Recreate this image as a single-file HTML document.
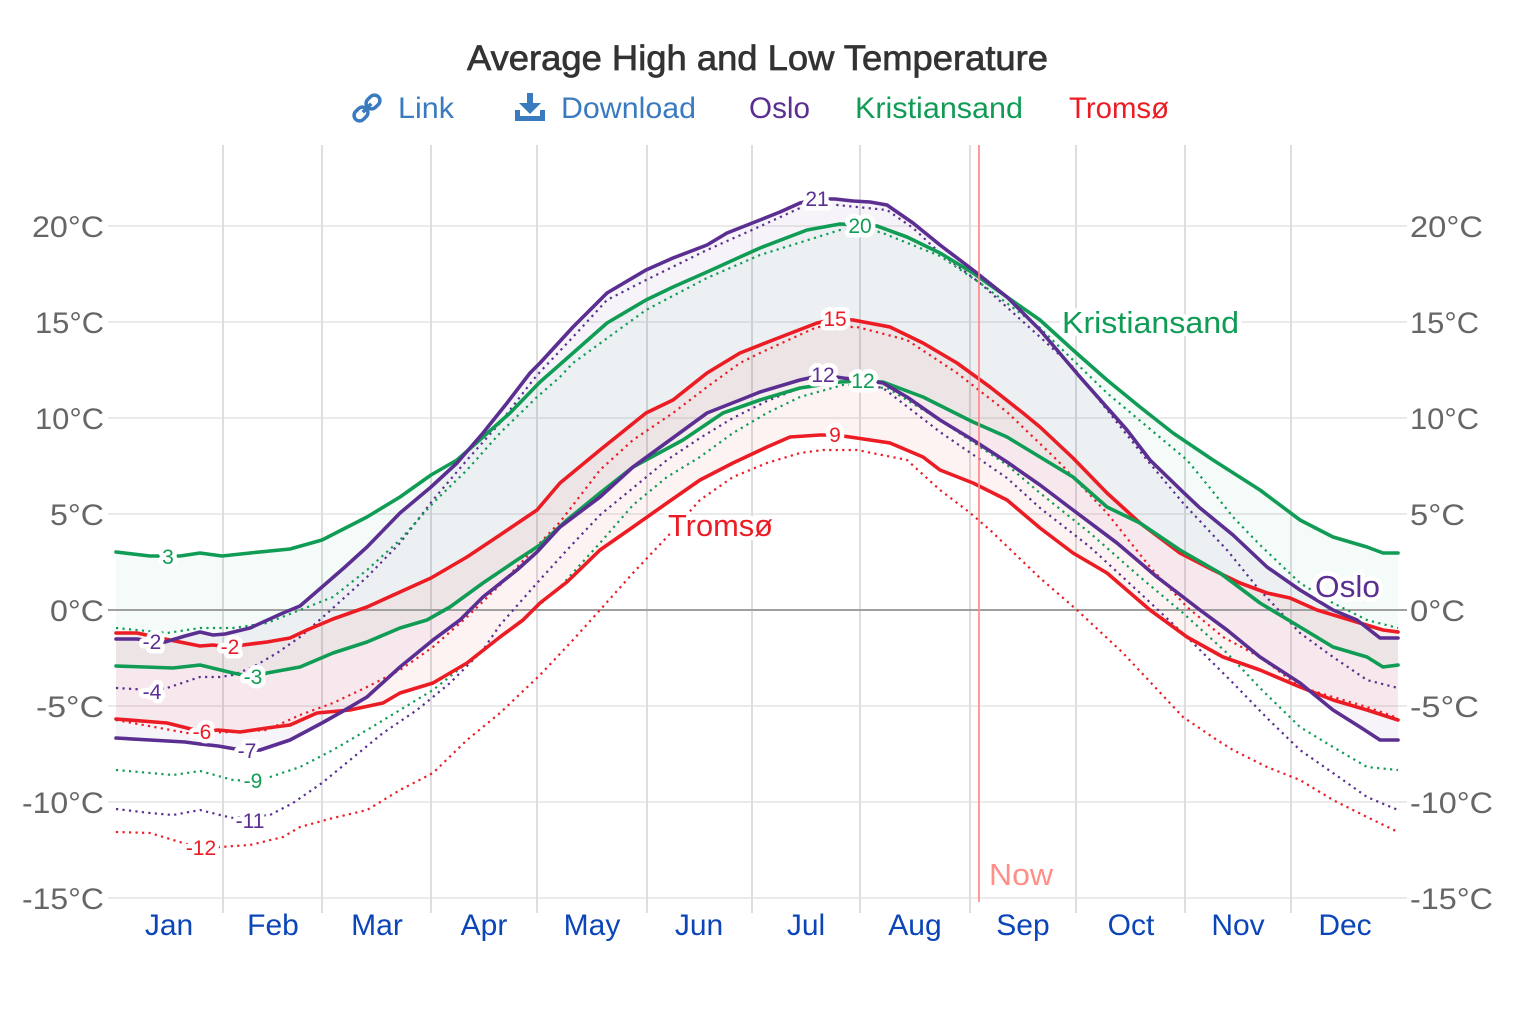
<!DOCTYPE html>
<html><head><meta charset="utf-8"><style>
html,body{margin:0;padding:0;background:#fff;}
svg{display:block;font-family:"Liberation Sans",Arial,sans-serif;}
.h{paint-order:stroke;stroke:#fff;stroke-width:9;stroke-linejoin:round;}
.v{font-size:21px;text-anchor:middle;}
.ax{font-size:30px;fill:#666;}
.mo{font-size:30px;fill:#0b45b8;text-anchor:middle;}
.s{fill:none;stroke-width:3.6;stroke-linejoin:round;stroke-linecap:round;}
.d{fill:none;stroke-width:2.2;stroke-dasharray:2.2 4.3;}
</style></head><body>
<svg width="1520" height="1014" viewBox="0 0 1520 1014" xmlns="http://www.w3.org/2000/svg">
<rect width="1520" height="1014" fill="#fff"/>
<!-- title -->
<text x="467" y="70" font-size="35" fill="#333" stroke="#333" stroke-width="0.7" textLength="581" lengthAdjust="spacingAndGlyphs">Average High and Low Temperature</text>
<!-- legend -->
<g transform="translate(367,108) rotate(45)" fill="none" stroke="#3a7bbf" stroke-width="3.5">
<rect x="-5.5" y="-16" width="11" height="15" rx="5.5"/>
<rect x="-5.5" y="1" width="11" height="15" rx="5.5"/>
<line x1="0" y1="-6" x2="0" y2="6"/>
</g>
<text x="398" y="118" font-size="30" fill="#3a7bbf" textLength="56" lengthAdjust="spacingAndGlyphs">Link</text>
<g fill="#3a7bbf">
<rect x="527" y="93" width="6" height="13"/>
<polygon points="519,103 541,103 530,114"/>
<path d="M515,110 h5 v6 h20 v-6 h5 v11 h-30 z"/>
</g>
<text x="561" y="118" font-size="30" fill="#3a7bbf" textLength="135" lengthAdjust="spacingAndGlyphs">Download</text>
<text x="749" y="118" font-size="30" fill="#5b2e91" textLength="61" lengthAdjust="spacingAndGlyphs">Oslo</text>
<text x="855" y="118" font-size="30" fill="#109c55" textLength="168" lengthAdjust="spacingAndGlyphs">Kristiansand</text>
<text x="1069" y="118" font-size="30" fill="#ec1c24" textLength="100" lengthAdjust="spacingAndGlyphs">Tromsø</text>

<!-- grid -->
<g stroke="#ebebeb" stroke-width="2">
<line x1="108" y1="226" x2="1407" y2="226"/>
<line x1="108" y1="322" x2="1407" y2="322"/>
<line x1="108" y1="418" x2="1407" y2="418"/>
<line x1="108" y1="514" x2="1407" y2="514"/>
<line x1="108" y1="706" x2="1407" y2="706"/>
<line x1="108" y1="802" x2="1407" y2="802"/>
<line x1="108" y1="898" x2="1407" y2="898"/>
</g>
<g stroke="#dedede" stroke-width="2">
<line x1="223" y1="145" x2="223" y2="913"/>
<line x1="322" y1="145" x2="322" y2="913"/>
<line x1="431" y1="145" x2="431" y2="913"/>
<line x1="537" y1="145" x2="537" y2="913"/>
<line x1="647" y1="145" x2="647" y2="913"/>
<line x1="752" y1="145" x2="752" y2="913"/>
<line x1="860" y1="145" x2="860" y2="913"/>
<line x1="970" y1="145" x2="970" y2="913"/>
<line x1="1076" y1="145" x2="1076" y2="913"/>
<line x1="1185" y1="145" x2="1185" y2="913"/>
<line x1="1291" y1="145" x2="1291" y2="913"/>
</g>

<!-- fills -->
<polygon fill="#5b2e91" fill-opacity="0.05" points="116,639 137,639 150,641 165,642 185,636 200,632 213,635 225,634 250,628 283,613 300,606 322,587 345,567 367,547 400,513 431,487 457,463 483,433 507,403 530,373 540,363 573,327 607,293 646,270 673,258 707,245 727,233 760,220 780,212 800,203 817,199 835,199 853,201 870,202 887,205 913,223 940,245 973,270 1007,297 1040,330 1080,377 1127,430 1150,460 1183,492 1200,508 1233,535 1267,567 1300,590 1333,610 1357,620 1380,638 1398,638 1398,740 1380,740 1360,727 1333,710 1300,683 1260,657 1227,630 1200,610 1157,577 1117,543 1073,510 1040,485 1007,462 973,440 940,420 907,397 883,383 860,380 843,378 823,375 800,380 760,392 740,400 707,413 670,440 633,467 600,497 560,527 537,552 517,570 483,597 460,620 433,640 400,667 367,697 345,710 322,723 290,740 260,750 247,751 218,746 200,744 185,742 150,740 116,738"/>
<polygon fill="#109c55" fill-opacity="0.045" points="116,552 150,556 180,556 200,553 222,556 250,553 290,549 322,540 367,517 400,497 431,475 457,460 483,437 510,413 540,382 573,353 607,323 646,300 673,287 707,272 740,257 760,248 807,230 840,224 877,226 907,237 940,253 973,273 1007,297 1040,320 1073,350 1107,380 1140,407 1173,433 1213,460 1260,490 1300,520 1333,537 1367,547 1383,553 1398,553 1398,665 1383,667 1367,657 1333,647 1300,627 1260,603 1220,573 1180,550 1140,523 1107,507 1073,477 1040,457 1007,437 973,422 923,397 883,382 863,381 840,382 800,388 760,400 723,413 683,440 633,467 600,493 567,520 540,545 517,560 483,583 450,607 427,620 400,628 367,642 333,653 300,667 267,673 253,677 233,673 200,665 173,668 116,666"/>
<polygon fill="#ec1c24" fill-opacity="0.055" points="116,633 137,633 165,639 200,646 213,645 230,647 243,645 267,642 290,638 307,630 333,619 367,607 400,592 431,578 467,557 500,535 537,510 560,483 600,450 646,413 673,400 707,373 740,353 773,340 817,323 835,319 853,320 890,327 923,343 957,363 990,387 1023,413 1040,427 1073,458 1107,493 1140,523 1180,553 1213,570 1240,583 1267,593 1290,598 1317,610 1350,620 1383,630 1398,632 1398,720 1367,710 1333,700 1300,687 1260,670 1223,657 1187,637 1150,610 1107,573 1073,553 1040,528 1007,500 973,483 940,470 923,457 890,443 850,437 835,435 820,435 790,437 767,447 733,463 700,480 667,503 633,527 600,550 567,582 540,603 523,620 500,637 467,663 433,683 400,693 383,703 350,710 317,713 290,725 267,728 240,732 218,730 202,732 187,728 167,723 116,719"/>

<!-- zero line -->
<line x1="108" y1="610" x2="1407" y2="610" stroke="#a0a0a0" stroke-width="2"/>

<!-- dotted series -->
<polyline class="d" stroke="#5b2e91" points="116,688 150,690 167,688 200,677 220,677 233,675 253,667 277,653 300,637 323,617 345,597 367,577 400,543 433,500 467,460 500,423 533,380 540,372 573,337 607,300 646,280 707,250 752,230 800,208 837,205 887,210 913,228 940,253 980,283 1040,337 1073,367 1107,410 1147,460 1183,503 1227,550 1257,587 1300,633 1333,657 1367,680 1398,688"/>
<polyline class="d" stroke="#5b2e91" points="116,809 150,813 173,815 200,810 220,815 233,818 270,815 293,803 322,783 350,760 383,733 417,710 450,683 483,650 500,625 537,583 567,550 600,515 633,488 667,460 700,438 733,418 767,401 800,388 843,381 883,388 940,432 1007,478 1040,508 1090,547 1140,593 1190,640 1233,683 1267,718 1300,750 1333,773 1367,797 1398,810"/>
<polyline class="d" stroke="#109c55" points="116,628 167,633 200,628 233,628 267,623 300,610 333,597 367,570 400,540 433,503 467,470 500,433 537,397 560,377 573,363 646,310 707,278 760,255 840,230 880,232 940,256 980,283 1040,328 1107,393 1187,460 1210,488 1233,517 1260,545 1300,583 1333,603 1367,620 1398,628"/>
<polyline class="d" stroke="#109c55" points="116,770 173,775 200,771 233,780 253,781 270,777 300,767 333,750 367,730 400,710 433,690 467,663 500,637 523,620 537,607 560,587 600,543 633,505 667,477 700,457 733,433 767,413 800,397 843,385 887,388 940,420 1007,465 1040,493 1090,533 1140,577 1183,613 1227,653 1260,688 1300,727 1333,747 1367,767 1398,770"/>
<polyline class="d" stroke="#ec1c24" points="116,720 187,733 233,732 267,730 300,715 333,703 367,687 400,670 433,647 467,617 500,585 537,546 560,522 600,470 633,440 673,413 707,387 740,363 760,353 817,327 857,327 907,340 957,373 1007,412 1057,460 1107,513 1150,567 1187,607 1223,637 1260,657 1300,687 1333,697 1367,707 1398,718"/>
<polyline class="d" stroke="#ec1c24" points="116,832 150,833 183,843 200,848 220,847 250,845 283,837 300,827 333,818 367,810 400,790 433,773 467,740 500,713 540,675 573,640 600,610 633,573 667,537 700,500 733,477 767,463 800,453 823,450 857,450 907,460 940,490 969,512 990,530 1040,578 1077,610 1123,653 1167,700 1183,717 1217,740 1233,750 1267,767 1300,780 1333,800 1367,817 1398,832"/>

<!-- solid series -->
<polyline class="s" stroke="#ec1c24" points="116,633 137,633 165,639 200,646 213,645 230,647 243,645 267,642 290,638 307,630 333,619 367,607 400,592 431,578 467,557 500,535 537,510 560,483 600,450 646,413 673,400 707,373 740,353 773,340 817,323 835,319 853,320 890,327 923,343 957,363 990,387 1023,413 1040,427 1073,458 1107,493 1140,523 1180,553 1213,570 1240,583 1267,593 1290,598 1317,610 1350,620 1383,630 1398,632"/>
<polyline class="s" stroke="#ec1c24" points="116,719 167,723 187,728 202,732 218,730 240,732 267,728 290,725 317,713 350,710 383,703 400,693 433,683 467,663 500,637 523,620 540,603 567,582 600,550 633,527 667,503 700,480 733,463 767,447 790,437 820,435 835,435 850,437 890,443 923,457 940,470 973,483 1007,500 1040,528 1073,553 1107,573 1150,610 1187,637 1223,657 1260,670 1300,687 1333,700 1367,710 1398,720"/>
<polyline class="s" stroke="#109c55" points="116,552 150,556 180,556 200,553 222,556 250,553 290,549 322,540 367,517 400,497 431,475 457,460 483,437 510,413 540,382 573,353 607,323 646,300 673,287 707,272 740,257 760,248 807,230 840,224 877,226 907,237 940,253 973,273 1007,297 1040,320 1073,350 1107,380 1140,407 1173,433 1213,460 1260,490 1300,520 1333,537 1367,547 1383,553 1398,553"/>
<polyline class="s" stroke="#109c55" points="116,666 173,668 200,665 233,673 253,677 267,673 300,667 333,653 367,642 400,628 427,620 450,607 483,583 517,560 540,545 567,520 600,493 633,467 683,440 723,413 760,400 800,388 840,382 863,381 883,382 923,397 973,422 1007,437 1040,457 1073,477 1107,507 1140,523 1180,550 1220,573 1260,603 1300,627 1333,647 1367,657 1383,667 1398,665"/>
<polyline class="s" stroke="#5b2e91" points="116,639 137,639 150,641 165,642 185,636 200,632 213,635 225,634 250,628 283,613 300,606 322,587 345,567 367,547 400,513 431,487 457,463 483,433 507,403 530,373 540,363 573,327 607,293 646,270 673,258 707,245 727,233 760,220 780,212 800,203 817,199 835,199 853,201 870,202 887,205 913,223 940,245 973,270 1007,297 1040,330 1080,377 1127,430 1150,460 1183,492 1200,508 1233,535 1267,567 1300,590 1333,610 1357,620 1380,638 1398,638"/>
<polyline class="s" stroke="#5b2e91" points="116,738 150,740 185,742 200,744 218,746 247,751 260,750 290,740 322,723 345,710 367,697 400,667 433,640 460,620 483,597 517,570 537,552 560,527 600,497 633,467 670,440 707,413 740,400 760,392 800,380 823,375 843,378 860,380 883,383 907,397 940,420 973,440 1007,462 1040,485 1073,510 1117,543 1157,577 1200,610 1227,630 1260,657 1300,683 1333,710 1360,727 1380,740 1398,740"/>

<!-- now line -->
<line x1="979" y1="145" x2="979" y2="902" stroke="#ff8a8a" stroke-width="2" stroke-opacity="0.85"/>
<text x="989" y="885" font-size="31" fill="#ff8f87" textLength="64" lengthAdjust="spacingAndGlyphs">Now</text>

<!-- inline value labels -->
<g class="v">
<text class="h" x="817" y="206" fill="#5b2e91">21</text>
<text class="h" x="860" y="233" fill="#109c55">20</text>
<text class="h" x="835" y="326" fill="#ec1c24">15</text>
<text class="h" x="823" y="382" fill="#5b2e91">12</text>
<text class="h" x="863" y="388" fill="#109c55">12</text>
<text class="h" x="835" y="442" fill="#ec1c24">9</text>
<text class="h" x="168" y="564" fill="#109c55">3</text>
<text class="h" x="152" y="649" fill="#5b2e91">-2</text>
<text class="h" x="230" y="654" fill="#ec1c24">-2</text>
<text class="h" x="253" y="684" fill="#109c55">-3</text>
<text class="h" x="152" y="699" fill="#5b2e91">-4</text>
<text class="h" x="202" y="739" fill="#ec1c24">-6</text>
<text class="h" x="247" y="758" fill="#5b2e91">-7</text>
<text class="h" x="253" y="788" fill="#109c55">-9</text>
<text class="h" x="250" y="828" fill="#5b2e91">-11</text>
<text class="h" x="201" y="855" fill="#ec1c24">-12</text>
</g>

<!-- series name labels -->
<text class="h" x="1062" y="333" font-size="31" fill="#109c55" textLength="177" lengthAdjust="spacingAndGlyphs">Kristiansand</text>
<text class="h" x="1315" y="597" font-size="31" fill="#5b2e91" textLength="65" lengthAdjust="spacingAndGlyphs">Oslo</text>
<text class="h" x="668" y="536" font-size="31" fill="#ec1c24" textLength="105" lengthAdjust="spacingAndGlyphs">Tromsø</text>

<!-- left axis -->
<g class="ax">
<text x="32" y="237" textLength="72" lengthAdjust="spacingAndGlyphs">20°C</text>
<text x="35" y="333" textLength="69" lengthAdjust="spacingAndGlyphs">15°C</text>
<text x="35" y="429" textLength="69" lengthAdjust="spacingAndGlyphs">10°C</text>
<text x="50" y="525" textLength="54" lengthAdjust="spacingAndGlyphs">5°C</text>
<text x="50" y="621" textLength="54" lengthAdjust="spacingAndGlyphs">0°C</text>
<text x="36" y="717" textLength="68" lengthAdjust="spacingAndGlyphs">-5°C</text>
<text x="22" y="813" textLength="82" lengthAdjust="spacingAndGlyphs">-10°C</text>
<text x="22" y="909" textLength="82" lengthAdjust="spacingAndGlyphs">-15°C</text>
</g>
<!-- right axis -->
<g class="ax">
<text x="1410" y="237" textLength="73" lengthAdjust="spacingAndGlyphs">20°C</text>
<text x="1410" y="333" textLength="69" lengthAdjust="spacingAndGlyphs">15°C</text>
<text x="1410" y="429" textLength="69" lengthAdjust="spacingAndGlyphs">10°C</text>
<text x="1410" y="525" textLength="55" lengthAdjust="spacingAndGlyphs">5°C</text>
<text x="1410" y="621" textLength="55" lengthAdjust="spacingAndGlyphs">0°C</text>
<text x="1410" y="717" textLength="69" lengthAdjust="spacingAndGlyphs">-5°C</text>
<text x="1410" y="813" textLength="83" lengthAdjust="spacingAndGlyphs">-10°C</text>
<text x="1410" y="909" textLength="83" lengthAdjust="spacingAndGlyphs">-15°C</text>
</g>

<!-- months -->
<g class="mo">
<text x="169" y="935">Jan</text>
<text x="273" y="935">Feb</text>
<text x="377" y="935">Mar</text>
<text x="484" y="935">Apr</text>
<text x="592" y="935">May</text>
<text x="699" y="935">Jun</text>
<text x="806" y="935">Jul</text>
<text x="915" y="935">Aug</text>
<text x="1023" y="935">Sep</text>
<text x="1131" y="935">Oct</text>
<text x="1238" y="935">Nov</text>
<text x="1345" y="935">Dec</text>
</g>
</svg>
</body></html>
